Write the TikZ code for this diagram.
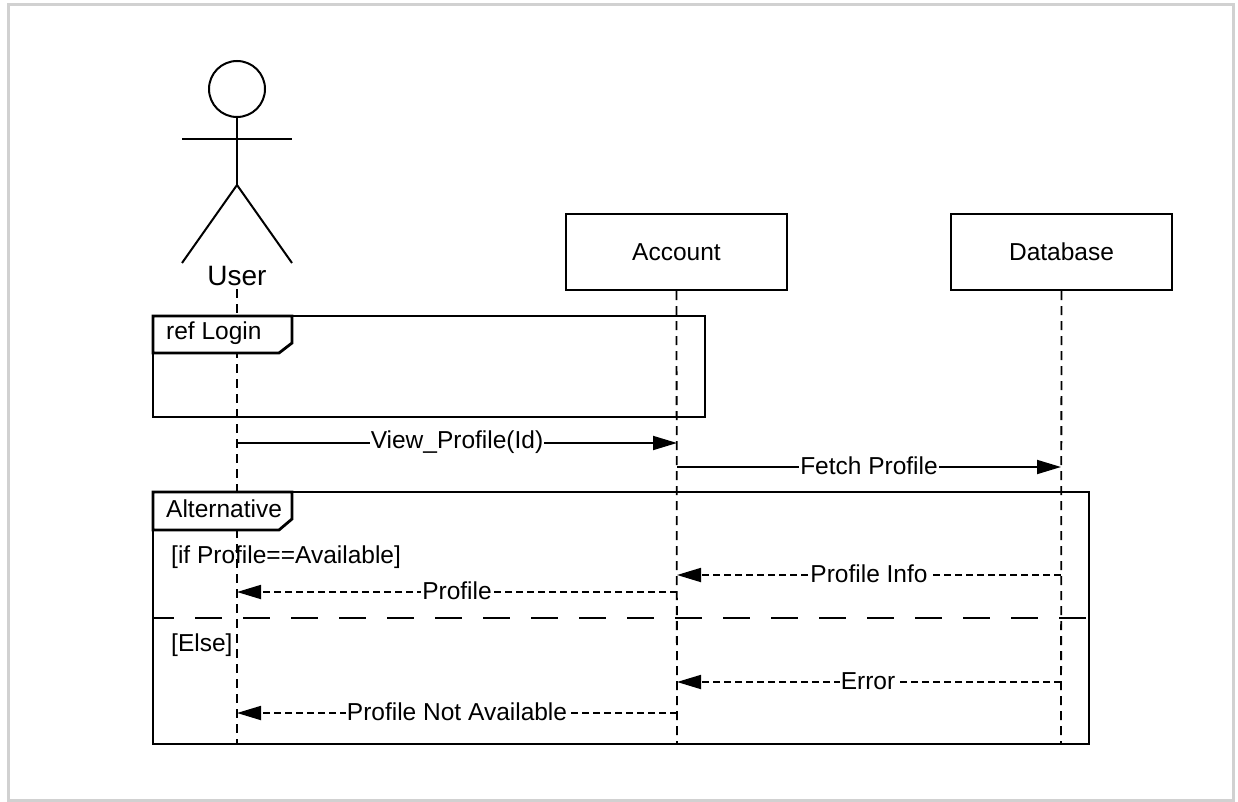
\documentclass[tikz,border=0pt]{standalone}
\usepackage{fontspec}
\setmainfont{Liberation Sans}
\usetikzlibrary{arrows.meta}
\begin{document}
\begin{tikzpicture}[x=1pt,y=-1pt,
  txt/.style={inner sep=0pt,font=\fontsize{24.5}{27}\selectfont},
  lbl/.style={txt,fill=white,inner xsep=1pt,inner ysep=2pt},
  objbox/.style={draw,line width=2pt,minimum width=221pt,minimum height=76pt,inner sep=0pt,font=\fontsize{24.5}{27}\selectfont},
  lifeline/.style={line width=1.8pt,dash pattern=on 9pt off 6pt},
  framebox/.style={line width=2.8pt},
  msg/.style={line width=1.8pt,-{Triangle[length=24pt,width=14pt]}},
  ret/.style={line width=1.8pt,dash pattern=on 7pt off 4pt,-{Triangle[length=24pt,width=14pt]}},
  shadowline/.style={line width=3pt,black!18}]
\useasboundingbox (0,0) rectangle (1238,802);
\fill[white] (0,0) rectangle (1238,802);
% page shadow
\draw[shadowline] (8,5) -- (1233,5) -- (1233,800) -- (8,800) -- cycle;

% actor
\node[draw,circle,line width=2pt,minimum size=56pt,inner sep=0pt] (head) at (237,89) {};
\coordinate (hip) at (237,185);
\coordinate (armL) at (182,139);
\coordinate (armR) at (292,139);
\coordinate (legL) at (182,263);
\coordinate (legR) at (292,263);
\draw[line width=2pt] (head.south) -- (hip);
\draw[line width=2pt] (armL) -- (armR);
\draw[line width=2pt] (legL) -- (hip) -- (legR);
\node[inner sep=0pt,font=\fontsize{28}{31}\selectfont] (user) at (237,276) {User};

% objects
\node[objbox] (acc) at (676.5,252) {Account};
\node[objbox] (db) at (1061.5,252) {Database};

% lifeline end coordinates
\coordinate (uTop) at (237,289);
\coordinate (uBot) at (237,744);
\coordinate (aBot) at (677,744);
\coordinate (dBot) at (1061,744);

% lifelines
\draw[lifeline] (uTop) -- (uBot);
\draw[lifeline] (acc.south) -- (aBot);
\draw[lifeline] (db.south) -- (dBot);

% ref frame
\draw[framebox] (153,316) rectangle (705,417);
\filldraw[framebox,fill=white] (153,316) -- (292,316) -- (292,343) -- (279,353) -- (153,353) -- cycle;
\node[txt,anchor=west] (refl) at (166,333) {ref Login};

% messages
\coordinate (m1s) at (237,443);
\coordinate (m1e) at (677,443);
\draw[msg] (m1s) -- (m1e);
\node[lbl] (m1l) at (457,442) {View\_Profile(Id)};

\coordinate (m2s) at (677,467);
\coordinate (m2e) at (1061,467);
\draw[msg] (m2s) -- (m2e);
\node[lbl] (m2l) at (869,466) {Fetch Profile};

% alternative frame
\draw[framebox] (153,492) rectangle (1089,744);
\filldraw[framebox,fill=white] (153,492) -- (292,492) -- (292,519) -- (279,530) -- (153,530) -- cycle;
\node[txt,anchor=west] (altl) at (166,509) {Alternative};
\draw[line width=2pt,dash pattern=on 27pt off 21pt,dash phase=6pt] (153,618) -- (1089,618);

\node[txt,anchor=west] (g1) at (171,557) {[if Profile==Available]};
\node[txt,anchor=west] (g2) at (171,645) {[Else]};

% returns
\coordinate (r1s) at (1061,575);
\coordinate (r1e) at (677,575);
\draw[ret] (r1s) -- (r1e);
\node[lbl] (r1l) at (869,574) {Profile Info};

\coordinate (r2s) at (677,592);
\coordinate (r2e) at (237,592);
\draw[ret] (r2s) -- (r2e);
\node[lbl] (r2l) at (457,591) {Profile};

\coordinate (r3s) at (1061,682);
\coordinate (r3e) at (677,682);
\draw[ret] (r3s) -- (r3e);
\node[lbl] (r3l) at (868,681) {Error};

\coordinate (r4s) at (677,713);
\coordinate (r4e) at (237,713);
\draw[ret] (r4s) -- (r4e);
\node[lbl] (r4l) at (457,712) {Profile Not Available};
\end{tikzpicture}
\end{document}
